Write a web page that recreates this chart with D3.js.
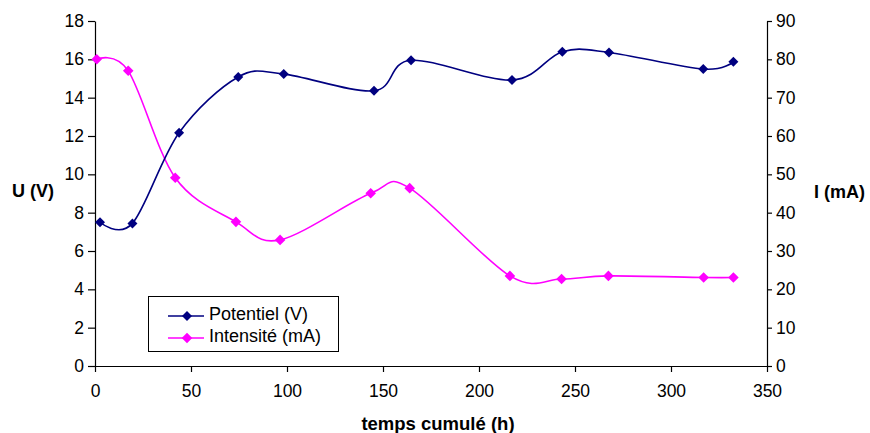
<!DOCTYPE html>
<html><head><meta charset="utf-8">
<script src="https://cdn.jsdelivr.net/npm/d3@7"></script>
<style>body{margin:0;background:#fff}svg{display:block}text{font-family:Arial,"Liberation Sans",sans-serif}</style>
</head><body>
<svg id="c" width="870" height="433"></svg>
<script>
const timesU = [2.6, 19.5, 43.8, 74.6, 98.3, 145.3, 164.6, 217.2, 243.4, 267.7, 316.8, 332.5];
const potentiel = [7.5, 7.44, 12.17, 15.08, 15.23, 14.36, 15.95, 14.92, 16.4, 16.36, 15.49, 15.87];
const timesI = [0.9, 17.3, 41.8, 73.4, 96.4, 143.6, 163.9, 216.1, 243.0, 267.4, 317.0, 332.5];
const intensite = [80, 77, 49.1, 37.6, 32.9, 45.05, 46.4, 23.5, 22.7, 23.5, 23.1, 23.1];
const xTicks = [0, 50, 100, 150, 200, 250, 300, 350];
const uTicks = [0, 2, 4, 6, 8, 10, 12, 14, 16, 18];
const iTicks = [0, 10, 20, 30, 40, 50, 60, 70, 80, 90];
const seriesNames = ["Potentiel (V)", "Intensité (mA)"];
const colors = ["#000080", "#FF00FF"];

const svg = d3.select("#c");
const L = 95, R = 767, T = 21, B = 366;
const x = d3.scaleLinear().domain([0, 350]).range([L, R]);
const yU = d3.scaleLinear().domain([0, 18]).range([B, T]);
const yI = d3.scaleLinear().domain([0, 90]).range([B, T]);

function styleAxis(g){
  g.selectAll("path,line").attr("stroke","#000").attr("stroke-width",1.2);
  g.selectAll("text").attr("font-size","17.5px").attr("fill","#000");
}
svg.append("g").attr("transform",`translate(0,${B})`)
  .call(d3.axisBottom(x).tickValues(xTicks).tickSize(6).tickSizeOuter(0).tickPadding(13))
  .call(styleAxis);
svg.append("g").attr("transform",`translate(${L},0)`)
  .call(d3.axisLeft(yU).tickValues(uTicks).tickSize(7).tickSizeOuter(0).tickPadding(4))
  .call(styleAxis);
svg.append("g").attr("transform",`translate(${R},0)`)
  .call(d3.axisRight(yI).tickValues(iTicks).tickSize(5).tickSizeOuter(0).tickPadding(4))
  .call(styleAxis);

const curve = d3.curveCardinal.tension(0);
const lineU = d3.line().x((d,i)=>x(timesU[i])).y(d=>yU(d)).curve(curve);
const lineI = d3.line().x((d,i)=>x(timesI[i])).y(d=>yI(d)).curve(curve);
const diamondU = d3.symbol().type(d3.symbolSquare).size(50);
const diamondI = d3.symbol().type(d3.symbolSquare).size(56);
const diamonds = [diamondU, diamondI];

svg.append("path").datum(intensite).attr("d",lineI).attr("fill","none").attr("stroke",colors[1]).attr("stroke-width",1.6);
svg.append("path").datum(potentiel).attr("d",lineU).attr("fill","none").attr("stroke",colors[0]).attr("stroke-width",1.6);

svg.selectAll(".mI").data(intensite).enter().append("path")
  .attr("d",diamondI).attr("fill",colors[1])
  .attr("transform",(d,i)=>`translate(${x(timesI[i])},${yI(d)}) rotate(45)`);
svg.selectAll(".mU").data(potentiel).enter().append("path")
  .attr("d",diamondU).attr("fill",colors[0])
  .attr("transform",(d,i)=>`translate(${x(timesU[i])},${yU(d)}) rotate(45)`);

svg.append("text").attr("x",12).attr("y",197).attr("font-size","18px").attr("font-weight","bold").text("U (V)");
svg.append("text").attr("x",814).attr("y",198).attr("font-size","18px").attr("font-weight","bold").text("I (mA)");
svg.append("text").attr("x",438).attr("y",430).attr("text-anchor","middle").attr("font-size","18.5px").attr("font-weight","bold").text("temps cumulé (h)");

const lg = svg.append("g");
lg.append("rect").attr("x",148.5).attr("y",296.5).attr("width",190).attr("height",55).attr("fill","#fff").attr("stroke","#000").attr("stroke-width",1);
seriesNames.forEach((n,i)=>{
  const yy = 316 + i*22;
  lg.append("line").attr("x1",168).attr("x2",204).attr("y1",yy).attr("y2",yy).attr("stroke",colors[i]).attr("stroke-width",1.6);
  lg.append("path").attr("d",diamonds[i]).attr("fill",colors[i]).attr("transform",`translate(187,${yy}) rotate(45)`);
  lg.append("text").attr("x",209).attr("y",yy+3.5).attr("font-size","18px").text(n);
});
</script>
</body></html>
